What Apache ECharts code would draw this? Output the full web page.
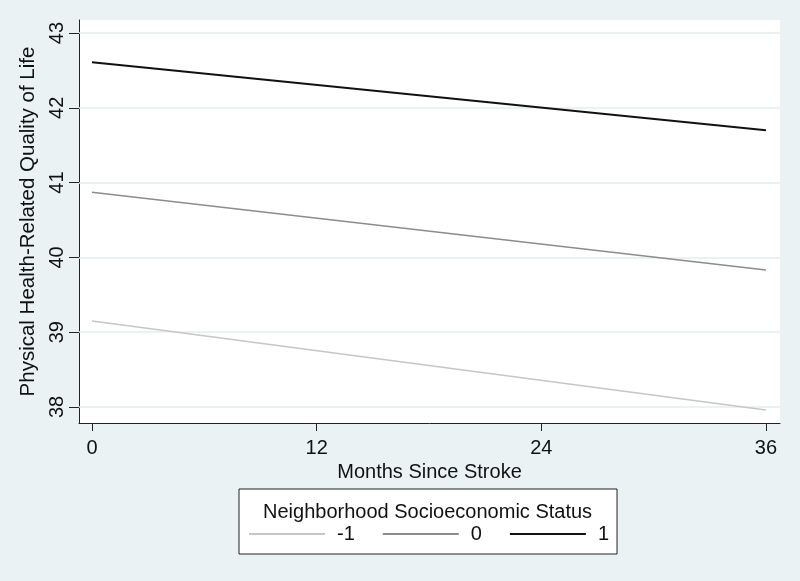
<!DOCTYPE html>
<html><head><meta charset="utf-8">
<script src="https://cdn.jsdelivr.net/npm/echarts@6/dist/echarts.min.js"></script>
<style>html,body{margin:0;padding:0;background:#eaf2f3}#c{width:800px;height:581px}</style>
</head><body><div id="c"></div>
<script>
var months = [0, 36];
var sesLevels = ['-1', '0', '1'];
var valuesNeg1 = [39.15, 37.96];
var values0 = [40.87, 39.83];
var values1 = [42.61, 41.70];
var xTicks = [0, 12, 24, 36];
var yTicks = [38, 39, 40, 41, 42, 43];
var colors = ['#c6c6c6', '#8c8c8c', '#111111'];
var widths = [1.5, 1.5, 2];
var seriesValues = [valuesNeg1, values0, values1];

var font = 'Liberation Sans, Arial, sans-serif';
var chart = echarts.init(document.getElementById('c'));
chart.setOption({
  backgroundColor: '#eaf2f3',
  animation: false,
  title: {
    text: 'Neighborhood Socioeconomic Status',
    left: 258, top: 497,
    textStyle: {fontFamily: font, fontSize: 20, fontWeight: 'normal', color: '#111'}
  },
  legend: {
    data: sesLevels,
    left: 239, top: 489,
    width: 379,
    padding: [35, 8, 10, 9],
    borderColor: '#222', borderWidth: 1,
    backgroundColor: '#fff',
    itemWidth: 76, itemHeight: 10, itemGap: 27,
    itemStyle: {opacity: 0},
    textStyle: {fontFamily: font, fontSize: 20, color: '#111', padding: [0, 0, 0, 7]}
  },
  grid: {left: 79, top: 20, right: 20, bottom: 158, show: true, backgroundColor: '#fff', borderWidth: 0},
  xAxis: {
    type: 'value', min: -0.694, max: 36.75,
    name: 'Months Since Stroke', nameLocation: 'middle', nameGap: 35,
    nameTextStyle: {fontFamily: font, fontSize: 20, color: '#111'},
    axisLine: {show: true, onZero: false, lineStyle: {color: '#222', width: 1}},
    axisTick: {show: true, length: 8, customValues: xTicks, lineStyle: {color: '#222'}},
    axisLabel: {customValues: xTicks, fontFamily: font, fontSize: 20, color: '#111', margin: 15},
    splitLine: {show: false}
  },
  yAxis: {
    type: 'value', min: 37.786, max: 43.174,
    name: 'Physical Health-Related Quality of Life', nameLocation: 'middle', nameGap: 34,
    nameTextStyle: {fontFamily: font, fontSize: 20.5, color: '#111'},
    axisLine: {show: true, onZero: false, lineStyle: {color: '#222', width: 1}},
    axisTick: {show: true, length: 10, customValues: yTicks, lineStyle: {color: '#222'}},
    axisLabel: {customValues: yTicks, rotate: 90, fontFamily: font, fontSize: 20, color: '#111', margin: 12},
    splitLine: {show: false}
  },
  series: sesLevels.map(function (name, i) {
    var s = {
      name: name, type: 'line', symbol: 'none',
      data: months.map(function (m, j) { return [m, seriesValues[i][j]]; }),
      lineStyle: {color: colors[i], width: widths[i]},
      itemStyle: {color: colors[i]},
      z: 3 + i
    };
    if (i === 0) {
      s.markLine = {
        silent: true, symbol: 'none', label: {show: false},
        lineStyle: {color: '#e6eef1', width: 1.5, type: 'solid'},
        data: yTicks.map(function (v) { return {yAxis: v}; }),
        z: 1
      };
    }
    return s;
  })
});
</script></body></html>
